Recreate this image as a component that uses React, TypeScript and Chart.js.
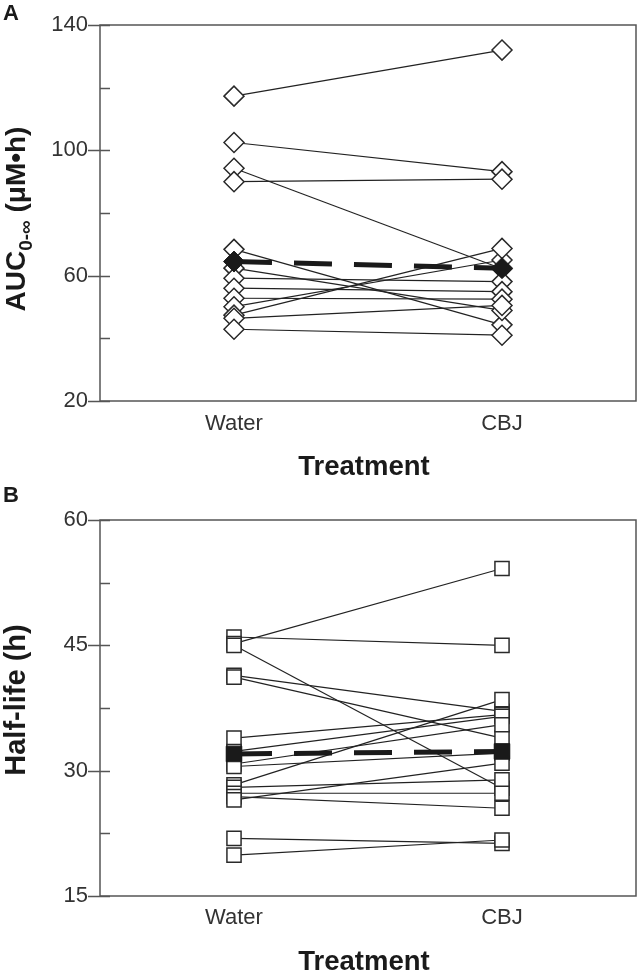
import React, { useEffect, useRef } from 'react';
import { Chart, registerables } from 'chart.js';

Chart.register(...registerables);

const categories = ['Water', 'CBJ'];

// Panel A: AUC0-∞ (μM•h), one pair per subject
const aucWater = [117.3, 102.5, 94.3, 90.0, 68.4, 62.4, 59.2, 56.0, 52.8, 50.1, 47.4, 46.4, 42.9];
const aucCBJ = [132.0, 93.2, 62.2, 90.8, 44.3, 48.9, 58.1, 54.9, 52.5, 65.0, 68.7, 50.5, 41.0];
const aucMean = [64.5, 62.4];
const aucTicks = [20, 60, 100, 140];

// Panel B: Half-life (h), one pair per subject
const hlWater = [46.0, 45.2, 45.0, 41.4, 41.2, 33.9, 32.3, 30.8, 30.5, 28.3, 28.0, 27.3, 26.9, 26.5, 21.9, 19.9];
const hlCBJ = [45.0, 54.2, 27.9, 37.1, 33.9, 36.7, 36.5, 35.5, 32.1, 38.5, 28.9, 27.3, 25.5, 30.9, 21.3, 21.7];
const hlMean = [32.0, 32.3];
const hlTicks = [15, 30, 45, 60];

const FONT = "'Liberation Sans', Arial, sans-serif";

type TitlePart = { text: string; size: number; dy?: number };

type PanelOpts = {
  letter: string;
  letterBaseline: number;
  yTitle: TitlePart[];
  yTitleCenter: number;
  xTitle: string;
  xTitleY: number;
  xLabelY: number;
  ticks: number[];
};

function framePlugin(o: PanelOpts) {
  return {
    id: 'frame' + o.letter,
    afterDraw(chart: any) {
      const { ctx, chartArea: a } = chart;
      const ys = chart.scales.y;
      const xs = chart.scales.x;
      ctx.save();
      ctx.strokeStyle = '#555';
      ctx.lineWidth = 1.5;
      ctx.strokeRect(a.left, a.top, a.right - a.left, a.bottom - a.top);
      ctx.beginPath();
      for (const v of o.ticks) {
        const py = Math.round(ys.getPixelForValue(v)) + 0.5;
        ctx.moveTo(a.left - 12, py);
        ctx.lineTo(a.left + 10, py);
      }
      for (let i = 0; i < o.ticks.length - 1; i++) {
        const v = (o.ticks[i] + o.ticks[i + 1]) / 2;
        const py = Math.round(ys.getPixelForValue(v)) + 0.5;
        ctx.moveTo(a.left, py);
        ctx.lineTo(a.left + 10, py);
      }
      ctx.stroke();

      // category labels from the x scale
      ctx.fillStyle = '#333';
      ctx.font = `22px ${FONT}`;
      ctx.textAlign = 'center';
      ctx.textBaseline = 'middle';
      categories.forEach((c, i) => {
        ctx.fillText(c, xs.getPixelForValue(i), o.xLabelY);
      });

      // panel letter
      ctx.fillStyle = '#1a1a1a';
      ctx.font = `bold 22px ${FONT}`;
      ctx.textAlign = 'left';
      ctx.textBaseline = 'alphabetic';
      ctx.fillText(o.letter, 3, o.letterBaseline);

      // x title
      ctx.font = `bold 27.5px ${FONT}`;
      ctx.textAlign = 'center';
      ctx.textBaseline = 'middle';
      ctx.fillText(o.xTitle, (a.left + a.right) / 2 - 4, o.xTitleY);

      // y title (rotated, with optional subscript)
      ctx.textBaseline = 'alphabetic';
      ctx.textAlign = 'left';
      let total = 0;
      for (const p of o.yTitle) {
        ctx.font = `bold ${p.size}px ${FONT}`;
        total += ctx.measureText(p.text).width;
      }
      ctx.translate(25, o.yTitleCenter);
      ctx.rotate(-Math.PI / 2);
      let x = -total / 2;
      for (const p of o.yTitle) {
        ctx.font = `bold ${p.size}px ${FONT}`;
        ctx.fillText(p.text, x, p.dy || 0);
        x += ctx.measureText(p.text).width;
      }
      ctx.restore();
    },
  };
}

function buildConfig(
  water: number[],
  cbj: number[],
  mean: number[],
  min: number,
  max: number,
  ticks: number[],
  pointStyle: string,
  meanRadius: number,
  xHeight: number,
  padTop: number,
  opts: PanelOpts
) {
  const datasets: any[] = [];
  datasets.push({
    data: mean,
    borderColor: '#1a1a1a',
    borderWidth: 5,
    borderDash: [38, 22],
    pointStyle,
    pointRadius: meanRadius,
    pointBackgroundColor: '#1a1a1a',
    pointBorderColor: '#1a1a1a',
    pointBorderWidth: 1,
    fill: false,
    tension: 0,
  });
  const markers = [
    ...water.map((v) => ({ x: categories[0], y: v })),
    ...cbj.map((v) => ({ x: categories[1], y: v })),
  ];
  datasets.push({
    data: markers,
    showLine: false,
    pointStyle,
    pointRadius: 10,
    pointBackgroundColor: '#ffffff',
    pointBorderColor: '#2a2a2a',
    pointBorderWidth: 1.5,
  });
  water.forEach((w, i) => {
    datasets.push({
      data: [w, cbj[i]],
      borderColor: '#222',
      borderWidth: 1.2,
      pointRadius: 0,
      fill: false,
      tension: 0,
    });
  });
  return {
    type: 'line',
    data: { labels: categories, datasets },
    options: {
      responsive: false,
      animation: false,
      layout: { autoPadding: false, padding: { top: padTop, right: 2, left: 0, bottom: 0 } },
      plugins: { legend: { display: false }, tooltip: { enabled: false } },
      scales: {
        x: {
          type: 'category',
          offset: true,
          grid: { display: false, drawTicks: false },
          border: { display: false },
          ticks: { display: false },
          afterFit: (s: any) => {
            s.height = xHeight;
            s.paddingLeft = 0;
            s.paddingRight = 0;
          },
        },
        y: {
          type: 'linear',
          min,
          max,
          afterBuildTicks: (s: any) => {
            s.ticks = ticks.map((v) => ({ value: v }));
          },
          grid: { display: false, drawTicks: false },
          border: { display: false },
          ticks: { color: '#333', padding: 12, font: { family: FONT, size: 22 } },
          afterFit: (s: any) => {
            s.width = 100;
            s.paddingTop = 0;
            s.paddingBottom = 0;
          },
        },
      },
    },
    plugins: [framePlugin(opts)],
  };
}

function useChart(ref: React.RefObject<HTMLCanvasElement>, make: () => any) {
  useEffect(() => {
    if (!ref.current) return;
    const chart = new Chart(ref.current, make());
    return () => chart.destroy();
  }, []);
}

export default function App() {
  const refA = useRef<HTMLCanvasElement>(null);
  const refB = useRef<HTMLCanvasElement>(null);

  useChart(refA, () =>
    buildConfig(aucWater, aucCBJ, aucMean, 20, 140, aucTicks, 'rectRot', 10.5, 83, 25, {
      letter: 'A',
      letterBaseline: 20,
      yTitle: [
        { text: 'AUC', size: 28 },
        { text: '0-∞', size: 19, dy: 7 },
        { text: ' (μM•h)', size: 28 },
      ],
      yTitleCenter: 219,
      xTitle: 'Treatment',
      xTitleY: 467,
      xLabelY: 424,
      ticks: aucTicks,
    })
  );

  useChart(refB, () =>
    buildConfig(hlWater, hlCBJ, hlMean, 15, 60, hlTicks, 'rect', 11, 77, 36, {
      letter: 'B',
      letterBaseline: 18,
      yTitle: [{ text: 'Half-life (h)', size: 29 }],
      yTitleCenter: 216,
      xTitle: 'Treatment',
      xTitleY: 478,
      xLabelY: 434,
      ticks: hlTicks,
    })
  );

  return (
    <div style={{ position: 'absolute', left: 0, top: 0, width: 638, height: 973, background: '#fff' }}>
      <canvas ref={refA} width={638} height={484} style={{ display: 'block' }} />
      <canvas ref={refB} width={638} height={489} style={{ display: 'block' }} />
    </div>
  );
}
